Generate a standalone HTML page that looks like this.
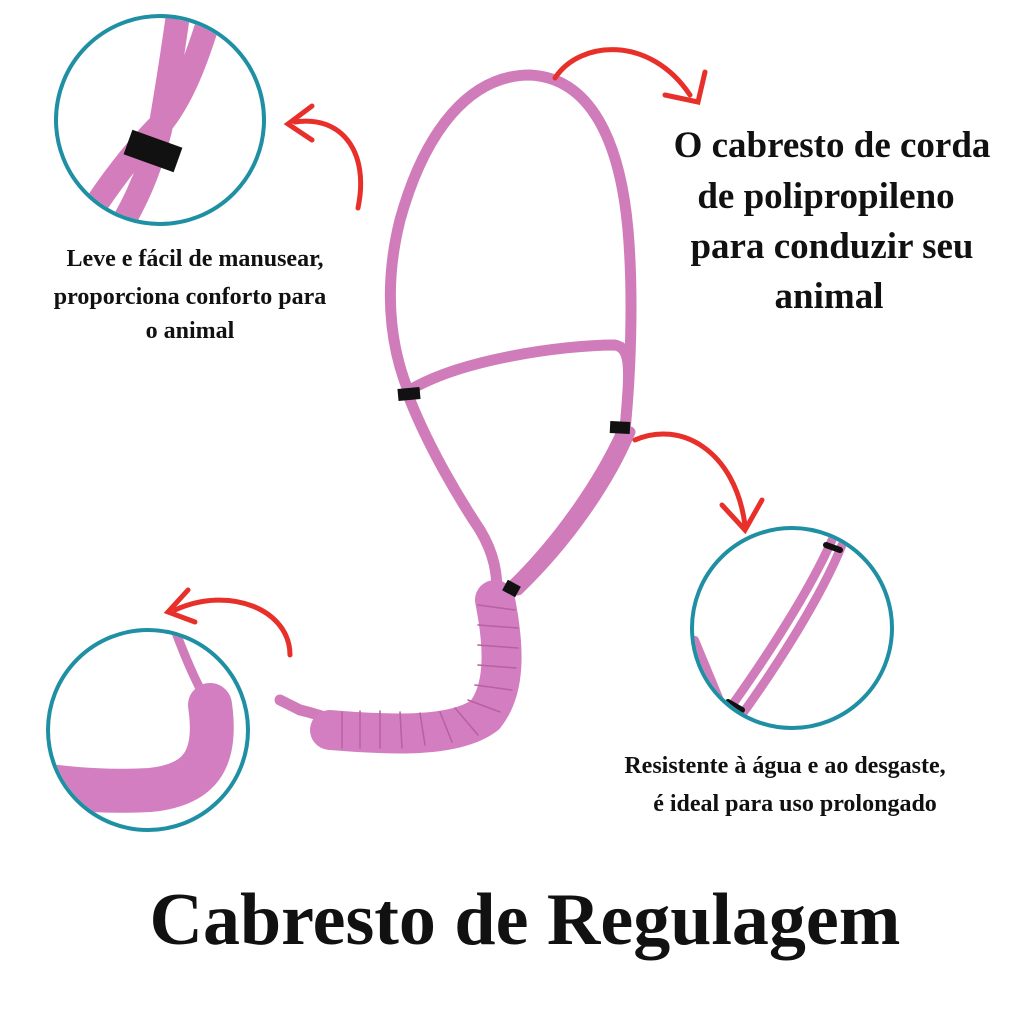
<!DOCTYPE html>
<html><head><meta charset="utf-8"><style>
body{margin:0;background:#fff;}
.t{font-family:"Liberation Serif",serif;font-weight:bold;fill:#111;text-anchor:middle;}
</style></head><body>
<svg width="1024" height="1024" viewBox="0 0 1024 1024" xmlns="http://www.w3.org/2000/svg">
<defs>
<clipPath id="c1"><circle cx="160" cy="120" r="102"/></clipPath>
<clipPath id="c2"><circle cx="148" cy="730" r="98"/></clipPath>
<clipPath id="c3"><circle cx="792" cy="628" r="98"/></clipPath>
</defs>
<rect width="1024" height="1024" fill="#fff"/>
<g fill="none" stroke-linecap="round">
<!-- halter -->
<g stroke="#d17cba" stroke-width="11">
<path d="M410,395 C395,360 380,300 400,220 C425,130 470,75 530,75 C590,78 620,140 628,230 C634,300 630,380 625,430"/>
<path d="M410,390 C460,360 560,345 615,345 C632,348 630,370 625,430"/>
<path d="M410,400 C430,450 460,500 480,530 C495,555 497,575 497,592"/>
<path d="M622,432 C600,480 560,540 510,588"/>
<path d="M630,432 C610,480 570,540 518,590"/>
<path d="M300,710 C310,712 320,716 335,720"/>
</g>
<path d="M495,600 C505,650 505,690 485,715 C455,738 390,735 330,730" stroke="#d27ec0" stroke-width="40"/>
<g stroke="#b9609f" stroke-width="1.5">
<path d="M478,605 L515,610 M478,625 L518,628 M478,645 L518,648 M478,665 L516,668 M475,685 L512,690 M468,700 L500,712 M455,708 L478,735 M440,712 L452,742 M420,713 L425,745 M400,712 L402,748 M380,711 L380,748 M360,711 L360,748 M342,712 L342,748"/>
</g>
<path d="M300,710 L280,700" stroke="#d17cba" stroke-width="11"/>
<g stroke="#111" stroke-width="12" stroke-linecap="butt">
<path d="M398,395 L420,393"/><path d="M610,427 L630,428"/><path d="M505,585 L518,592"/>
</g>
<!-- circle 1 contents -->
<g clip-path="url(#c1)">
<g stroke="#d47dbd" stroke-width="24">
<path d="M80,230 C110,180 140,145 160,125 C185,95 200,50 215,0"/>
<path d="M180,0 C172,60 165,100 160,130 C150,170 135,205 115,235"/>
</g>
<path d="M128,142 L178,160" stroke="#111" stroke-width="26" stroke-linecap="butt"/>
</g>
<!-- circle 2 contents -->
<g clip-path="url(#c2)">
<path d="M175,630 C190,670 200,690 212,710" stroke="#d17cba" stroke-width="9"/>
<path d="M210,705 C218,760 200,785 150,790 C110,792 80,790 40,785" stroke="#d27ec0" stroke-width="44"/>
</g>
<!-- circle 3 contents -->
<g clip-path="url(#c3)">
<path d="M725,715 C765,660 810,590 832,540" stroke="#d17cba" stroke-width="9"/>
<path d="M738,720 C778,665 822,595 842,545" stroke="#d17cba" stroke-width="9"/>
<path d="M695,640 L722,705" stroke="#d17cba" stroke-width="8"/>
<path d="M826,545 L840,550 M728,702 L742,710" stroke="#111" stroke-width="6"/>
</g>
<!-- circles -->
<g stroke="#1f8fa3" stroke-width="4">
<circle cx="160" cy="120" r="104"/>
<circle cx="148" cy="730" r="100"/>
<circle cx="792" cy="628" r="100"/>
</g>
<!-- arrows -->
<g stroke="#e8302a" stroke-width="5">
<path d="M555,78 C580,40 650,35 690,95"/>
<path d="M665,95 L698,102 L705,72"/>
<path d="M358,208 C370,150 340,115 295,122"/>
<path d="M312,106 L288,124 L312,140"/>
<path d="M635,440 C680,420 735,450 745,525"/>
<path d="M722,505 L745,530 L762,500"/>
<path d="M290,655 C290,610 230,585 175,610"/>
<path d="M188,590 L168,612 L195,622"/>
</g>
</g>
<!-- text -->
<g class="t" font-size="37">
<text x="832" y="157">O cabresto de corda</text>
<text x="826" y="208">de polipropileno</text>
<text x="832" y="258">para conduzir seu</text>
<text x="829" y="308">animal</text>
</g>
<g class="t" font-size="24">
<text x="195" y="266">Leve e fácil de manusear,</text>
<text x="190" y="304">proporciona conforto para</text>
<text x="190" y="338">o animal</text>
<text x="785" y="773">Resistente à água e ao desgaste,</text>
<text x="795" y="811">é ideal para uso prolongado</text>
</g>
<text class="t" x="525" y="944" font-size="74">Cabresto de Regulagem</text>
</svg>
</body></html>
